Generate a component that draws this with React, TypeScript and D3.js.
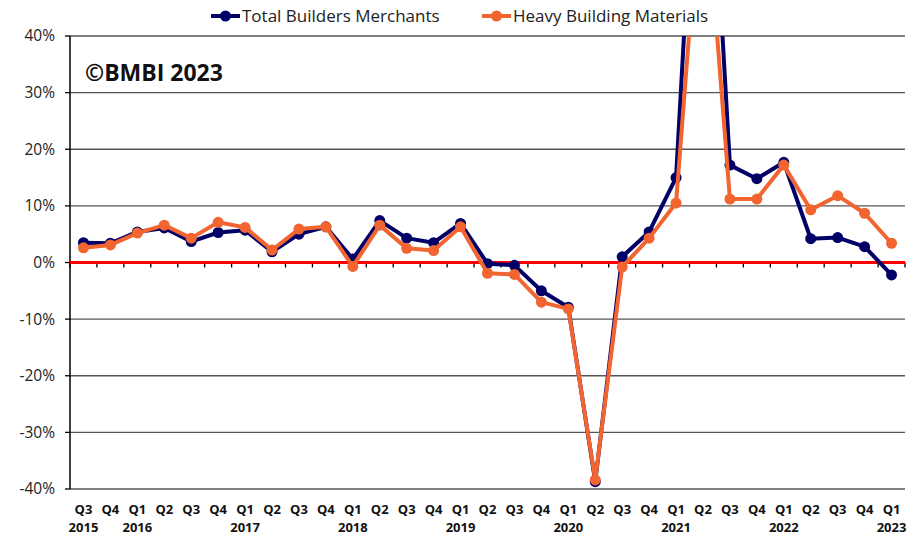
import React from 'react';
import * as d3 from 'd3';

// quarters from Q3 2015 to Q1 2023
const quarters = [
  'Q3', 'Q4',
  'Q1', 'Q2', 'Q3', 'Q4',
  'Q1', 'Q2', 'Q3', 'Q4',
  'Q1', 'Q2', 'Q3', 'Q4',
  'Q1', 'Q2', 'Q3', 'Q4',
  'Q1', 'Q2', 'Q3', 'Q4',
  'Q1', 'Q2', 'Q3', 'Q4',
  'Q1', 'Q2', 'Q3', 'Q4',
  'Q1',
];
const years = [
  '2015', '',
  '2016', '', '', '',
  '2017', '', '', '',
  '2018', '', '', '',
  '2019', '', '', '',
  '2020', '', '', '',
  '2021', '', '', '',
  '2022', '', '', '',
  '2023',
];

const totalMerchants = [
  3.5, 3.4,
  5.4, 6.1, 3.7, 5.3,
  5.7, 1.9, 5.0, 6.3,
  0.6, 7.4, 4.3, 3.5,
  6.9, -0.2, -0.5, -5.0,
  -7.9, -38.7, 1.0, 5.4,
  15.0, 100, 17.2, 14.8,
  17.7, 4.2, 4.4, 2.8,
  -2.2,
];
const heavyMaterials = [
  2.6, 3.1,
  5.2, 6.6, 4.3, 7.1,
  6.2, 2.2, 5.9, 6.3,
  -0.7, 6.6, 2.5, 2.1,
  6.3, -1.9, -2.1, -7.0,
  -8.2, -38.4, -0.8, 4.3,
  10.5, 72, 11.2, 11.2,
  17.2, 9.3, 11.8, 8.7,
  3.4,
];

const yTicks = [40, 30, 20, 10, 0, -10, -20, -30, -40];

const W = 916;
const H = 535;
const left = 70;
const right = 905;
const top = 36;
const bottom = 489;

const NAVY = '#000066';
const ORANGE = '#F26430';
const FONT = '"Open Sans", "Noto Sans", sans-serif';

export default function App() {
  const idx = d3.range(quarters.length);
  const x = d3.scaleBand<number>().domain(idx).range([left, right]).padding(0);
  const cx = (i: number) => (x(i) as number) + x.bandwidth() / 2;
  const y = d3.scaleLinear().domain([-40, 40]).range([bottom, top]);

  const line = d3.line<number>().x((_, i) => cx(i)).y((d) => y(d));

  const series = [
    { name: 'Total Builders Merchants', values: totalMerchants, color: NAVY },
    { name: 'Heavy Building Materials', values: heavyMaterials, color: ORANGE },
  ];

  const legendX = [211, 482];

  return (
    <svg
      width={W}
      height={H}
      style={{ position: 'absolute', left: 0, top: 0, background: '#fff' }}
      fontFamily={FONT}
    >
      <defs>
        <clipPath id="plot-clip">
          <rect x={left} y={top} width={right - left + 20} height={bottom - top + 20} />
        </clipPath>
      </defs>

      {/* gridlines */}
      {yTicks.map((t) => (
        <line key={t} x1={left} x2={right} y1={y(t)} y2={y(t)} stroke="#555" strokeWidth={1.3} />
      ))}

      {/* y axis */}
      <line x1={left} x2={left} y1={top} y2={bottom} stroke="#000" strokeWidth={1.5} />
      {yTicks.map((t) => (
        <g key={'yt' + t}>
          <line x1={left - 5} x2={left} y1={y(t)} y2={y(t)} stroke="#000" strokeWidth={1.3} />
          <text x={55} y={y(t)} dy="0.35em" textAnchor="end" fontSize={15.5} fill="#222">
            {t}%
          </text>
        </g>
      ))}

      {/* category ticks on the zero line */}
      {d3.range(quarters.length + 1).map((i) => {
        const xx = left + i * x.bandwidth();
        return <line key={'xt' + i} x1={xx} x2={xx} y1={y(0)} y2={y(0) + 5} stroke="#000" strokeWidth={1.3} />;
      })}

      {/* zero line */}
      <line x1={left} x2={right} y1={y(0)} y2={y(0)} stroke="#FF0000" strokeWidth={3} />

      {/* series */}
      <g clipPath="url(#plot-clip)">
        {series.map((s) => (
          <g key={s.name}>
            <path d={line(s.values) || ''} fill="none" stroke={s.color} strokeWidth={4} strokeLinejoin="round" />
            {s.values.map((v, i) => (
              <circle key={i} cx={cx(i)} cy={y(v)} r={5.5} fill={s.color} />
            ))}
          </g>
        ))}
      </g>

      {/* category labels */}
      {quarters.map((q, i) => (
        <g key={'lab' + i} fontWeight="bold" fontSize={13} fill="#111" textAnchor="middle">
          <text x={cx(i)} y={514}>{q}</text>
          {years[i] && <text x={cx(i)} y={532}>{years[i]}</text>}
        </g>
      ))}

      {/* watermark */}
      <text x={85} y={81} fontSize={23} fontWeight="bold" fill="#111">
        ©BMBI 2023
      </text>

      {/* legend */}
      {series.map((s, i) => (
        <g key={'lg' + i}>
          <line x1={legendX[i]} x2={legendX[i] + 29} y1={16} y2={16} stroke={s.color} strokeWidth={4} />
          <circle cx={legendX[i] + 14.5} cy={16} r={5.5} fill={s.color} />
          <text x={legendX[i] + 31} y={16} dy="0.35em" fontSize={17} fill="#222">
            {s.name}
          </text>
        </g>
      ))}
    </svg>
  );
}
